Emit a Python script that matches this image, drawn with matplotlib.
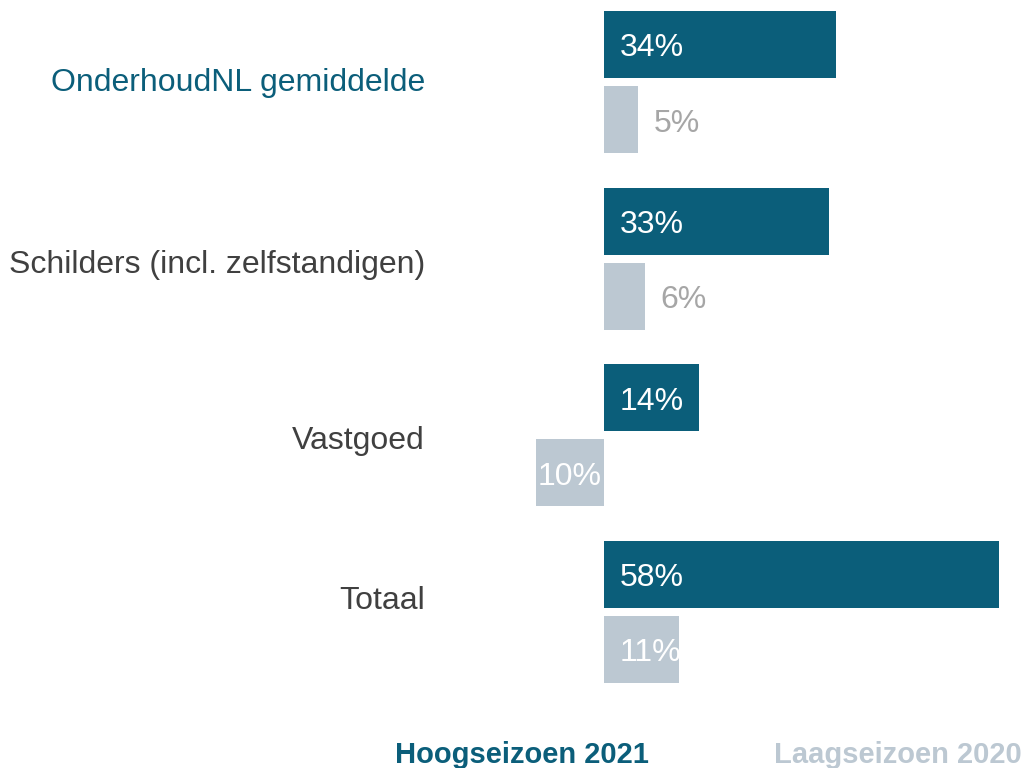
import matplotlib
matplotlib.use("Agg")
import matplotlib.pyplot as plt

plt.rcParams['font.family'] = ['Liberation Sans', 'DejaVu Sans']

categories = ["OnderhoudNL gemiddelde", "Schilders (incl. zelfstandigen)", "Vastgoed", "Totaal"]
hoog_2021 = [34, 33, 14, 58]
laag_2020 = [5, 6, -10, 11]
series_names = ["Hoogseizoen 2021", "Laagseizoen 2020"]

BLUE = "#0b5e7a"
GREY = "#bcc8d2"
LABEL_GREY = "#a6a6a6"
TEXT_DARK = "#404040"

W, H = 1026, 768
fig = plt.figure(figsize=(W / 100, H / 100), dpi=100)
ax = fig.add_axes([0, 0, 1, 1])

px_per_unit_x = 6.81
zero_px = 604
ax.set_xlim(-zero_px / px_per_unit_x, (W - zero_px) / px_per_unit_x)
group_px = 176.6
first_px = 82
ax.set_ylim((H - first_px) / group_px, -first_px / group_px)
ax.axis('off')

bar_h = 0.38
off = 0.2125
fs_val = 23
val_dy = 4 / group_px


def px_to_data_dx(p):
    return p / px_per_unit_x

for i, (hv, lv) in enumerate(zip(hoog_2021, laag_2020)):
    b1 = ax.barh(i - off, hv, height=bar_h, color=BLUE)[0]
    b2 = ax.barh(i + off, lv, height=bar_h, color=GREY)[0]
    # blue label inside at bar start
    t1 = ax.text(px_to_data_dx(16), i - off + val_dy, f"{abs(hv)}%", color="white",
                 fontsize=fs_val, va='center', ha='left')
    t1.set_clip_path(b1)
    # grey label
    if lv < 0:
        t = ax.text(lv + px_to_data_dx(2), i + off + val_dy, f"{abs(lv)}%", color="white",
                    fontsize=fs_val, va='center', ha='left')
        t.set_clip_path(b2)
    elif lv >= 10:
        t = ax.text(px_to_data_dx(16), i + off + val_dy, f"{lv}%", color="white",
                    fontsize=fs_val, va='center', ha='left')
        t.set_clip_path(b2)
    else:
        ax.text(lv + px_to_data_dx(16), i + off + val_dy, f"{lv}%", color=LABEL_GREY,
                fontsize=fs_val, va='center', ha='left')

# category labels
label_offsets_px = [1, 6, 6, -11]
for i, (c, o) in enumerate(zip(categories, label_offsets_px)):
    ax.text(-px_to_data_dx(zero_px - 425), i + o / group_px, c,
            color=BLUE if i == 0 else TEXT_DARK, fontsize=23, ha='right', va='center')

# legend texts
fig.text(522 / W, 1 - 755 / H, series_names[0], color=BLUE, fontsize=21,
         fontweight='bold', ha='center', va='center')
fig.text(898 / W, 1 - 755 / H, series_names[1], color=GREY, fontsize=21,
         fontweight='bold', ha='center', va='center')

fig.savefig("out.png", dpi=100)
